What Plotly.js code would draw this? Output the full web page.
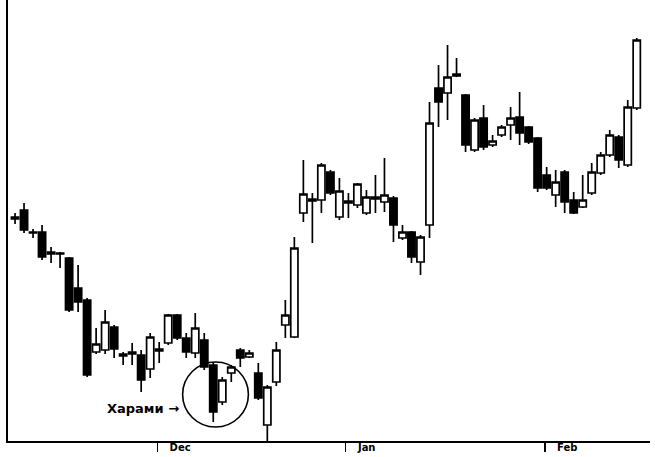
<!DOCTYPE html>
<html>
<head>
<meta charset="utf-8">
<script src="https://cdn.plot.ly/plotly-3.0.1.min.js"></script>
<style>html,body{margin:0;padding:0;background:#fff;}#chart{width:655px;height:457px;}</style>
</head>
<body>
<div id="chart"></div>
<script>
// trading-day index
const days = Array.from({length: 70}, (_, i) => i);
const openP  = [23.1,24.0,21.7,21.8,19.6,19.6,19.2,16.2,15.0,9.8,10.0,12.3,9.4,9.6,9.5,8.1,9.9,10.7,13.5,11.2,9.7,11.0,8.5,4.8,7.7,10.0,9.3,7.7,2.5,6.8,12.5,11.3,23.7,24.9,25.0,27.8,23.3,24.7,24.5,23.7,25.1,24.8,25.2,21.2,21.8,18.8,22.5,36.2,35.7,37.4,35.5,30.0,33.2,30.5,31.5,32.5,33.3,32.3,31.2,27.5,25.5,27.8,25.0,24.3,25.7,27.7,29.5,31.3,28.5,34.2];
const highP  = [23.7,24.7,22.1,22.5,20.3,19.8,19.3,18.5,15.2,12.2,14.0,12.5,9.8,10.7,10.0,11.7,10.8,13.6,13.6,11.7,13.7,11.7,8.8,7.3,8.5,10.2,10.0,8.7,6.5,10.8,15.0,21.3,29.0,25.7,28.7,28.0,27.2,25.7,26.7,26.0,27.5,29.2,25.4,22.5,21.9,21.5,34.8,38.5,40.5,39.2,35.6,33.2,34.5,31.5,32.5,34.3,35.8,32.4,31.3,28.3,28.0,28.0,25.8,27.5,28.7,29.8,32.0,31.5,35.0,41.2];
const lowP   = [22.6,21.7,21.2,19.0,18.7,18.2,13.8,13.8,7.3,9.6,9.6,9.2,8.5,8.5,5.8,7.2,8.7,10.5,11.0,9.2,9.2,8.0,2.8,4.5,6.8,8.3,9.2,5.0,0.9,6.4,11.2,11.2,22.8,20.7,23.7,25.5,23.0,23.2,24.2,23.5,23.7,23.8,20.8,21.0,18.7,17.5,21.2,32.3,33.0,37.3,29.8,29.8,30.0,30.3,31.3,31.0,30.5,30.6,25.8,26.0,24.3,23.7,23.6,24.2,25.5,27.5,29.3,28.2,28.3,34.0];
const closeP = [23.3,22.0,21.8,19.3,19.8,19.7,14.0,14.8,7.5,10.6,12.8,10.1,9.6,9.8,7.0,11.3,10.1,13.5,11.2,9.8,12.2,8.3,3.8,7.0,8.3,9.2,9.7,5.2,6.3,10.0,13.5,20.2,25.6,25.1,28.5,25.7,25.9,24.9,26.6,25.3,25.3,25.5,22.5,21.8,19.3,21.3,32.7,34.8,37.3,37.6,30.5,33.0,30.3,30.9,32.3,33.2,31.7,30.8,26.2,26.2,26.8,24.8,23.7,25.0,27.8,29.5,31.5,29.0,34.3,41.0];
const monthTicks = [15.8, 36.7, 58.8];
const monthLabels = ["Dec", "Jan", "Feb"];
const noteText = "Харами →";

const trace = {
  type: "candlestick",
  x: days, open: openP, high: highP, low: lowP, close: closeP,
  whiskerwidth: 0,
  increasing: {line: {color: "#000", width: 1.7}, fillcolor: "#fff"},
  decreasing: {line: {color: "#000", width: 1.7}, fillcolor: "#000"},
  hoverinfo: "none"
};

const layout = {
  width: 655, height: 457,
  margin: {l: 8, r: 5, t: 0, b: 16},
  paper_bgcolor: "#fff", plot_bgcolor: "#fff",
  showlegend: false,
  boxgap: 0.2, boxgroupgap: 0,
  xaxis: {
    range: [-0.78, 70.47],
    rangeslider: {visible: false},
    showgrid: false, zeroline: false,
    showline: true, linecolor: "#000", linewidth: 2,
    tickmode: "array", tickvals: monthTicks,
    ticktext: monthLabels.map(s => "\u00a0\u00a0\u00a0" + s),
    ticks: "outside", ticklen: 9, tickwidth: 1.5, tickcolor: "#000",
    ticklabelposition: "outside right",
    ticklabelstandoff: -4,
    tickfont: {family: "DejaVu Sans", size: 10, color: "#000", weight: "bold"}
  },
  yaxis: {
    range: [0.9, 45.0],
    showgrid: false, zeroline: false,
    showline: true, linecolor: "#000", linewidth: 2,
    showticklabels: false, ticks: ""
  },
  shapes: [{
    type: "circle", xref: "x", yref: "y",
    x0: 18.6, x1: 25.9, y0: 2.3, y1: 8.8,
    line: {color: "#000", width: 1.6}
  }],
  annotations: [{
    x: 18.4, y: 4.2, xref: "x", yref: "y",
    xanchor: "right", yanchor: "middle",
    text: noteText, showarrow: false,
    font: {family: "DejaVu Sans", size: 13, color: "#000", weight: "bold"}
  }]
};

Plotly.newPlot("chart", [trace], layout, {displayModeBar: false, staticPlot: true});
</script>
</body>
</html>
